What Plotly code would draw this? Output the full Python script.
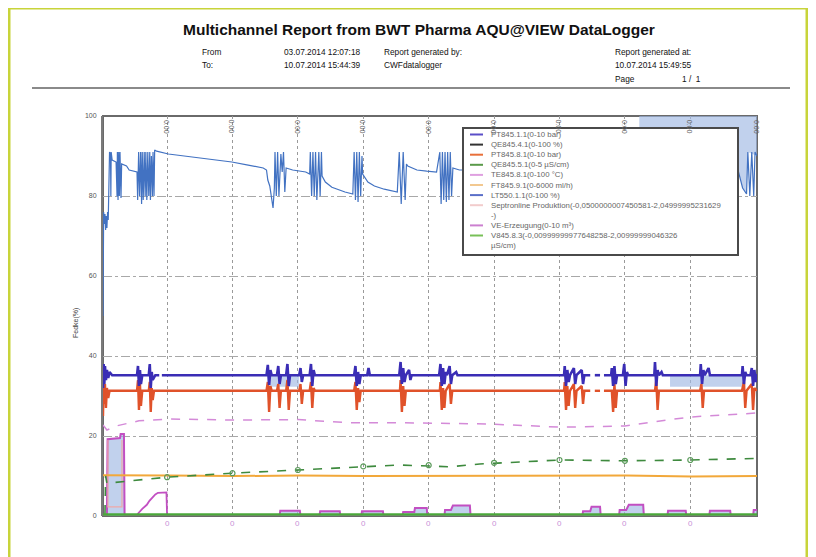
import plotly.graph_objects as go

# ---------------- data (x = days on the report time axis, y = percent of range) ----------------
grid_days = [0.98, 1.98, 2.98, 3.98, 4.98, 5.98, 6.98, 7.98, 8.98]
grid_labels = ["0:00"] * 9
edge_label_day = 10.0
edge_label = "0:00"

y_ticks = [0, 20, 40, 60, 80, 100]
y_ticktext = ["0", "20", "40", "60", "80", "100"]

# LT550.1.1 (0-100 %)
lt_x = [0.00, 0.005, 0.01, 0.02, 0.03, 0.04, 0.05, 0.06, 0.07, 0.08,
        0.09, 0.10, 0.115, 0.12, 0.125, 0.14, 0.20, 0.215, 0.22, 0.23, 0.24, 0.25, 0.26, 0.275, 0.285,
        0.36, 0.40, 0.52, 0.53, 0.545, 0.56, 0.575, 0.59, 0.60, 0.615, 0.63, 0.645, 0.655, 0.67, 0.685,
        0.70, 0.715, 0.725, 0.74, 0.755, 0.765, 0.78, 0.79,
        0.82, 1.00, 1.50, 1.97, 2.20, 2.45, 2.50, 2.52, 2.55, 2.57, 2.60, 2.62,
        2.63, 2.65, 2.67, 2.69, 2.72, 2.74, 2.76, 2.78, 2.80, 2.90, 3.10, 3.16,
        3.17, 3.19, 3.21, 3.23, 3.25, 3.27, 3.30, 3.32, 3.34,
        3.35, 3.40, 3.50, 3.60, 3.70, 3.82,
        3.84, 3.86, 3.88, 3.90, 3.92, 3.94, 3.96,
        3.97, 4.05, 4.15, 4.30, 4.50,
        4.53, 4.56, 4.59, 4.62, 4.64, 4.66, 4.80, 4.95, 5.10,
        5.15, 5.17, 5.19, 5.21, 5.23, 5.25, 5.27, 5.29, 5.31, 5.33, 5.35, 5.45, 5.55,
        6.00, 6.50, 7.00, 7.50, 8.00, 8.20, 8.60, 9.00, 9.40, 9.71,
        9.78, 9.84, 9.86, 9.89, 9.92, 9.95, 9.97, 10.0]
lt_y = [50, 70, 76, 73, 75.5, 71.5, 75, 72, 76, 74,
        80, 91, 90.5, 80, 91, 89, 88.5, 80, 91, 79, 91, 80, 91, 79.5, 88,
        87.5, 86.5, 86, 79, 91, 80, 91, 78, 91, 79, 91, 80, 91, 79, 91,
        80, 91, 79, 90, 80, 91, 80, 91.5,
        91.2, 90.5, 89.5, 88.5, 87.8, 87, 86.5, 84, 82.5, 80, 77, 82,
        91, 80, 91, 80, 90.5, 86, 91, 81, 87, 86.5, 86, 85.5,
        91, 80, 91, 80, 91, 79, 91, 80, 91,
        85, 83.5, 82.2, 81.5, 81, 80.5,
        91, 79, 91, 78.5, 91, 80, 90,
        85.5, 83.5, 82.5, 81.7, 81,
        91, 78, 91, 79, 88, 87.5, 86.5, 86.2, 86,
        91, 78, 91, 79, 91, 78.5, 91, 79, 91, 80, 87, 86.5, 86.5,
        86, 86, 85.5, 86, 87, 88, 87.5, 87, 86.5, 86.5,
        82, 80.5, 91, 80, 91, 80, 91, 90]

# upper light-blue band (between LT550.1.1 and the top of the scale)
band_x = [8.20, 8.60, 9.00, 9.40, 9.71, 9.78, 9.84, 9.86, 10.0]
band_y = [88, 87.5, 87, 86.5, 86.5, 82, 80.5, 91, 90]

# PT845.1.1 (0-10 bar)
pt1_x = [0.00, 0.01, 0.02, 0.03, 0.045, 0.06, 0.08, 0.10, 0.14,
         0.52, 0.535, 0.55, 0.565, 0.58, 0.60, 0.70, 0.715, 0.73, 0.745, 0.76, 0.80,
         0.86, 0.87, 0.90, 1.60, 2.50, 2.52, 2.54, 2.56, 2.58, 2.66, 2.68, 2.70, 2.72, 2.80, 2.82, 2.84, 2.86,
         3.00, 3.02, 3.04, 3.06, 3.16, 3.18, 3.20, 3.22, 3.24,
         3.84, 3.86, 3.88, 3.90, 3.92, 3.94, 4.04, 4.06, 4.08,
         4.53, 4.55, 4.57, 4.59, 4.61, 4.63, 4.68, 4.70, 4.72,
         5.14, 5.16, 5.18, 5.20, 5.22, 5.24, 5.26, 5.30, 5.32, 5.34, 5.40, 5.42,
         7.05, 7.06, 7.08, 7.10, 7.12, 7.14, 7.20, 7.22, 7.24, 7.32, 7.34, 7.36,
         7.45, 7.50, 7.52, 7.60, 7.62, 7.66,
         7.77, 7.78, 7.80, 7.82, 7.84, 7.86, 7.95, 7.97, 7.99, 8.01, 8.03,
         8.43, 8.44, 8.46, 8.48, 8.50, 8.54, 8.56,
         9.13, 9.14, 9.16, 9.18, 9.20, 9.26, 9.28,
         9.77, 9.78, 9.80, 9.82, 9.84, 9.90, 9.92, 9.94, 9.96, 9.98, 10.0]
pt1_y = [32, 38, 33, 37.5, 34, 36.5, 34.5, 36, 35.2,
         35.2, 37.5, 32.5, 36.5, 33, 35.2, 35.2, 38, 32, 36, 34, 35.2,
         35.2, None, 35.2, 35.2, 35.2, 37.8, 32.8, 36.5, 35.2, 35.2, 37.5, 33, 35.2, 35.2, 38, 32.5, 35.2,
         35.2, 37, 33.5, 35.2, 35.2, 38, 32.5, 36.5, 35.2,
         35.2, 37.5, 32.5, 36, 33, 35.2, 35.2, 37, 35.2,
         35.2, 38.5, 33, 37, 33.5, 35.2, 36.5, 34, 35.2,
         35.2, 38, 32.5, 37, 33, 36, 35.2, 37.5, 33, 35.2, 36, 35.2,
         35.2, 37.5, 32.5, 36.5, 33.5, 35.2, 37, 33, 35.2, 36.5, 33, 35.2,
         35.2, None, 35.2, 35.2, None, 35.2,
         35.2, 37, 32.5, 37.5, 33, 35.2, 35.2, 38, 32.5, 36, 35.2,
         35.2, 38.5, 32.5, 36.5, 35.2, 36, 35.2,
         35.2, 38, 33, 36.5, 35.2, 37, 35.2,
         35.2, 37.5, 33, 36, 35.2, 35.2, 37, 32.5, 36.5, 33.5, 35.5]

# light-blue areas below PT845.1.1
pfill_x = [[2.52, 3.00], [8.67, 9.82]]
pfill_top = 35.2
pfill_bottom = 32.3

# PT845.8.1 (0-10 bar)
pt8_x = [0.00, 0.01, 0.02, 0.03, 0.045, 0.06, 0.08, 0.10,
         0.52, 0.535, 0.55, 0.565, 0.58, 0.60, 0.70, 0.715, 0.73, 0.745, 0.76, 0.78,
         2.50, 2.52, 2.54, 2.56, 2.58, 2.66, 2.68, 2.70, 2.72, 2.80, 2.82, 2.84, 2.86,
         3.00, 3.02, 3.04, 3.06, 3.16, 3.18, 3.20, 3.22, 3.24,
         3.84, 3.86, 3.88, 3.90, 3.92, 3.94,
         4.54, 4.55, 4.57, 4.59, 4.61, 4.63,
         5.15, 5.16, 5.18, 5.20, 5.22, 5.24, 5.30, 5.32, 5.34,
         7.05, 7.06, 7.08, 7.10, 7.12, 7.14, 7.20, 7.22, 7.24, 7.32, 7.34, 7.36,
         7.45, 7.50, 7.52, 7.60, 7.62, 7.66,
         7.78, 7.80, 7.82, 7.84, 7.86,
         8.44, 8.46, 8.48, 8.50,
         9.13, 9.15, 9.17, 9.19,
         9.77, 9.80, 9.82, 9.84, 9.92, 9.94, 9.96, 10.0]
pt8_y = [25, 34, 28, 33, 27, 32, 29.5, 31.3,
         31.3, 34, 26.5, 33, 27.5, 31.3, 31.3, 33.5, 26, 32, 29, 31.3,
         31.3, 33.5, 26, 32.5, 31.3, 31.3, 33, 27, 31.3, 31.3, 34, 26.5, 31.3,
         31.3, 33, 28, 31.3, 31.3, 33.5, 27, 32, 31.3,
         31.3, 33.5, 26.5, 32, 28.5, 31.3,
         31.3, 34, 26, 32.5, 27.5, 31.3,
         31.3, 33.5, 26.5, 32, 27, 31.3, 33, 28, 31.3,
         31.3, 33.5, 26.5, 32.5, 27.5, 31.3, 33, 27, 31.3, 32.5, 28, 31.3,
         31.3, None, 31.3, 31.3, None, 31.3,
         31.3, 26, 33, 27, 31.3,
         31.3, 34, 26.5, 31.3,
         31.3, 33, 27, 31.3,
         31.3, 33.5, 27, 31.3, 33, 26.5, 32, 31.3]

# TE845.8.1 (0-100 °C)
te_x = [0.00, 0.06, 0.20, 0.55, 1.00, 1.50, 1.97, 2.98, 3.78, 4.54, 5.31, 5.92, 6.99, 7.98, 8.40, 8.98, 10.0]
te_y = [22.75, 21.5, 22.5, 23.8, 24.25, 24.2, 24.0, 24.1, 23.3, 23.3, 23.2, 23.0, 22.2, 22.5, 23.5, 24.75, 25.75]

# QE845.5.1 (0-5 µS/cm)
qe5_x = [0.03, 0.04, 0.06, 0.50, 0.98, 1.97, 2.98, 3.78, 4.54, 5.31, 5.76, 6.99, 7.98, 8.98, 10.0]
qe5_y = [0.5, 10, 8.2, 8.9, 9.7, 10.7, 11.5, 12.0, 12.75, 12.3, 13.0, 14.0, 13.8, 14.0, 14.4]
# QE845.5.1 samples marked at the day lines
qe5_grid_level = [9.7, 10.7, 11.5, 12.4, 12.7, 13.3, 14.0, 13.8, 14.0]

# FT845.9.1 (0-6000 ml/h)
ft_x = [0.00, 0.50, 1.00, 2.00, 3.00, 4.00, 5.00, 6.00, 7.00, 8.00, 9.00, 10.0]
ft_y = [10.2, 10.2, 10.1, 10.0, 10.1, 10.0, 10.0, 10.0, 10.0, 10.1, 9.9, 10.0]

# VE-Erzeugung (0-10 m³)
ve_x = [0.00, 0.06, 0.07, 0.26, 0.27, 0.32, 0.33, 2.70,
        2.71, 3.01, 3.02, 3.31, 3.32, 3.62, 3.63, 3.95,
        3.96, 4.28, 4.29, 4.58, 4.59, 4.76, 4.77, 4.95, 4.96, 5.22,
        5.23, 5.32, 5.35, 5.61, 5.62, 7.33, 7.34, 7.45, 7.47, 7.60, 7.61, 7.89,
        7.90, 8.00, 8.04, 8.26, 8.27, 8.63, 8.64, 8.91, 8.92, 9.27,
        9.28, 9.59, 9.60, 9.94, 9.95, 10.0]
ve_y = [0, 0, 19.2, 19.5, 20.5, 20.5, 0, 0,
        1.3, 1.3, 0, 0, 1.2, 1.2, 0, 0,
        1.2, 1.2, 0, 0, 1.0, 1.0, 2.0, 2.0, 0, 0,
        1.5, 1.5, 2.6, 2.6, 0, 0, 1.2, 1.2, 2.3, 2.3, 0, 0,
        1.5, 1.5, 2.8, 2.8, 0, 0, 1.3, 1.3, 0, 0,
        1.3, 1.3, 0, 0, 1.5, 1.5]

# ramp on the first day (magenta, no fill)
ramp_x = [0.52, 0.54, 0.60, 0.67, 0.71, 0.75, 0.80, 0.84, 0.97, 0.98]
ramp_y = [0, 0.7, 1.8, 2.8, 3.8, 4.6, 5.4, 5.8, 5.9, 0]

# Septronline Produktion
sep_x = [0.075, 0.075, 0.29, 0.29]
sep_y = [19.0, 2.3, 2.3, 19.0]

# V845.8.3
v_x = [0.00, 2.00, 4.00, 6.00, 8.00, 10.0]
v_y = [0.4, 0.4, 0.4, 0.4, 0.4, 0.4]

legend_names = [
    "PT845.1.1(0-10 bar)",
    "QE845.4.1(0-100 %)",
    "PT845.8.1(0-10 bar)",
    "QE845.5.1(0-5 µS/cm)",
    "TE845.8.1(0-100 °C)",
    "FT845.9.1(0-6000 ml/h)",
    "LT550.1.1(0-100 %)",
    "Septronline Produktion(-0,0500000007450581-2,04999995231629<br>-)",
    "VE-Erzeugung(0-10 m³)",
    "V845.8.3(-0,00999999977648258-2,00999999046326<br>µS/cm)",
]
legend_colors = ["#5b4fc8", "#333333", "#e8703a", "#5a9a4a", "#dfa0e0",
                 "#f2c890", "#5a6fc8", "#f2cccc", "#cc80d0", "#78c058"]

C_LT = "#4272c2"
C_PT1 = "#3a2db5"
C_PT8 = "#e0522a"
C_TE = "#d48ad8"
C_QE5 = "#3e8a3e"
C_FT = "#f2a83a"
C_VE = "#c24fc2"
C_V = "#4aa83a"
C_FILL = "rgba(160,185,228,0.65)"

# ---------------- geometry helpers (layout only) ----------------
# the page body adds an 8px offset; positions below are page pixels
OFF = 8
FIG_W, FIG_H = 816 - OFF, 557 - OFF
L, R, T, B = 103, 757, 116, 516
W, H = R - L, B - T


def PX(px):
    return (px - L) / W


def PY(py):
    return (B - py) / H


fig = go.Figure()

# band at the top right
fig.add_trace(go.Scatter(x=band_x + band_x[::-1], y=[100] * len(band_x) + band_y[::-1],
                         fill="toself", fillcolor=C_FILL, line=dict(width=0), mode="lines",
                         hoverinfo="skip"))
# fills under PT845.1.1
for seg in pfill_x:
    fig.add_trace(go.Scatter(x=[seg[0], seg[1], seg[1], seg[0]],
                             y=[pfill_top, pfill_top, pfill_bottom, pfill_bottom],
                             fill="toself", fillcolor=C_FILL, line=dict(width=0), mode="lines"))

fig.add_trace(go.Scatter(x=ve_x, y=ve_y, mode="lines", fill="tozeroy", fillcolor=C_FILL,
                         line=dict(color=C_VE, width=2, shape="linear"), name="VE-Erzeugung"))
fig.add_trace(go.Scatter(x=sep_x, y=sep_y, mode="lines", line=dict(color="#f0a8a8", width=1.2),
                         name="Septronline"))
fig.add_trace(go.Scatter(x=ramp_x, y=ramp_y, mode="lines", line=dict(color=C_VE, width=1.8),
                         name="ramp"))
fig.add_trace(go.Scatter(x=ft_x, y=ft_y, mode="lines", line=dict(color=C_FT, width=2),
                         name="FT845.9.1"))
fig.add_trace(go.Scatter(x=qe5_x, y=qe5_y, mode="lines", line=dict(color=C_QE5, width=1.6, dash="dash"),
                         name="QE845.5.1"))
fig.add_trace(go.Scatter(x=grid_days, y=qe5_grid_level, mode="markers",
                         marker=dict(symbol="circle-open", size=5, color="#5a9a5a", line=dict(width=1.2)),
                         name="QE845.5.1 marks"))
fig.add_trace(go.Scatter(x=te_x, y=te_y, mode="lines", line=dict(color=C_TE, width=1.5, dash="dash"),
                         name="TE845.8.1"))
fig.add_trace(go.Scatter(x=pt8_x, y=pt8_y, mode="lines", line=dict(color=C_PT8, width=2.4),
                         connectgaps=False, name="PT845.8.1"))
fig.add_trace(go.Scatter(x=pt1_x, y=pt1_y, mode="lines", line=dict(color=C_PT1, width=2.6),
                         connectgaps=False, name="PT845.1.1"))
fig.add_trace(go.Scatter(x=lt_x, y=lt_y, mode="lines", line=dict(color=C_LT, width=1.2),
                         name="LT550.1.1"))
fig.add_trace(go.Scatter(x=v_x, y=v_y, mode="lines", line=dict(color=C_V, width=2.5),
                         name="V845.8.3"))

shapes = []
annotations = []

# page border (yellow-green)
shapes.append(dict(type="rect", xref="paper", yref="paper", x0=PX(9), x1=PX(807), y0=PY(8), y1=PY(600),
                   line=dict(color="#c8d43a", width=3), layer="below"))
# horizontal rule under header
shapes.append(dict(type="line", xref="paper", yref="paper", x0=PX(32), x1=PX(790), y0=PY(88), y1=PY(88),
                   line=dict(color="#8a8a8a", width=2)))
# plot frame
shapes.append(dict(type="rect", xref="paper", yref="paper", x0=0, x1=1, y0=0, y1=1,
                   line=dict(color="#6a6a6a", width=2), layer="below"))

# header texts
FONT = "Liberation Sans, Arial, sans-serif"
annotations.append(dict(xref="paper", yref="paper", x=PX(419), y=PY(30), showarrow=False,
                        text="<b>Multichannel Report from BWT Pharma AQU@VIEW DataLogger</b>",
                        font=dict(family=FONT, size=15.5, color="#111"), xanchor="center", yanchor="middle"))
hdr = [
    (200, 52, "From"), (282, 52, "03.07.2014 12:07:18"), (382, 52, "Report generated by:"),
    (613, 52, "Report generated at:"),
    (200, 65, "To:"), (282, 65, "10.07.2014 15:44:39"), (382, 65, "CWFdatalogger"),
    (613, 65, "10.07.2014 15:49:55"),
    (613, 79, "Page"), (680, 79, "1 /  1"),
]
for hx, hy, ht in hdr:
    annotations.append(dict(xref="paper", yref="paper", x=PX(hx), y=PY(hy), showarrow=False, text=ht,
                            font=dict(family=FONT, size=8.3, color="#111"), xanchor="left", yanchor="middle"))

# y-axis title
annotations.append(dict(xref="paper", yref="paper", x=PX(70), y=PY(323), showarrow=False, text="Fedke(%)",
                        textangle=-90, font=dict(family=FONT, size=7, color="#444")))

# rotated time labels at the top of the plot
for gd, gl in zip(grid_days + [edge_label_day], grid_labels + [edge_label]):
    annotations.append(dict(xref="x", yref="paper", x=gd, y=PY(118), showarrow=False, text=gl,
                            textangle=90, font=dict(family=FONT, size=7, color="#666"),
                            xanchor="center", yanchor="top"))
# small pink labels under the axis
for gd in grid_days:
    annotations.append(dict(xref="x", yref="paper", x=gd, y=PY(523), showarrow=False, text="0",
                            font=dict(family=FONT, size=8, color="#c890d8"),
                            xanchor="center", yanchor="middle"))

# legend box (drawn manually for compact rows)
shapes.append(dict(type="rect", xref="paper", yref="paper", x0=PX(463), x1=PX(738), y0=PY(128), y1=PY(255),
                   fillcolor="white", line=dict(color="#4a4a4a", width=2), layer="above"))
row_y = 134.5
for name, col in zip(legend_names, legend_colors):
    parts = name.split("<br>")
    shapes.append(dict(type="line", xref="paper", yref="paper", x0=PX(470), x1=PX(483),
                       y0=PY(row_y), y1=PY(row_y), line=dict(color=col, width=2), layer="above"))
    for p in parts:
        annotations.append(dict(xref="paper", yref="paper", x=PX(489), y=PY(row_y), showarrow=False,
                                text=p, font=dict(family=FONT, size=7.8, color="#666"),
                                xanchor="left", yanchor="middle"))
        row_y += 10.1

fig.update_layout(
    width=FIG_W, height=FIG_H,
    margin=dict(l=L - OFF, r=FIG_W - (R - OFF), t=T - OFF, b=FIG_H - (B - OFF)),
    paper_bgcolor="white", plot_bgcolor="white",
    showlegend=False,
    shapes=shapes, annotations=annotations,
    xaxis=dict(range=[0, 10], tickvals=grid_days, showticklabels=False, ticks="",
               showgrid=True, gridcolor="#9a9a9a", griddash="dot", gridwidth=1,
               zeroline=False, showline=False, fixedrange=True),
    yaxis=dict(range=[0, 100], tickvals=y_ticks, ticktext=y_ticktext, ticks="",
               tickfont=dict(family=FONT, size=7, color="#555"), ticklabelstandoff=3,
               showgrid=True, gridcolor="#a8a8a8", griddash="dashdot", gridwidth=1,
               zeroline=False, showline=True, linecolor="#7a7a7a", linewidth=2, fixedrange=True),
)

fig.write_html("out.html")
